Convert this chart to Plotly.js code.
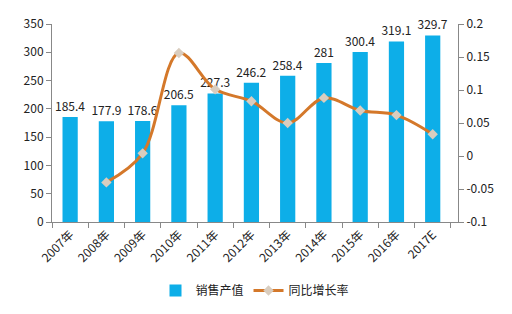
<!DOCTYPE html>
<html><head><meta charset="utf-8">
<script src="https://cdn.plot.ly/plotly-3.0.1.min.js"></script>
<style>html,body{margin:0;padding:0;background:#fff}#c{width:512px;height:314px}</style>
</head><body><div id="c"></div>
<script>
var years = ['2007年','2008年','2009年','2010年','2011年','2012年','2013年','2014年','2015年','2016年','2017E'];
var sales = [185.4,177.9,178.6,206.5,227.3,246.2,258.4,281,300.4,319.1,329.7];
var growthYears = ['2008年','2009年','2010年','2011年','2012年','2013年','2014年','2015年','2016年','2017E'];
var growth = [-0.040,0.004,0.156,0.101,0.083,0.050,0.088,0.069,0.062,0.033];
var y2Ticks = [-0.1,-0.05,0,0.05,0.1,0.15,0.2];
var y2Labels = ['-0.1','-0.05','0','0.05','0.1','0.15','0.2'];
var font = 'Noto Sans CJK SC, Open Sans, sans-serif';
var data = [
 {type:'bar', x:years, y:sales, name:'销售产值', marker:{color:'#0DAEE8'}, width:0.42,
  text:sales.map(String), textposition:'outside', cliponaxis:false, constraintext:'none',
  textfont:{size:12,color:'#222',family:font}},
 {type:'scatter', mode:'lines+markers', x:growthYears, y:growth, yaxis:'y2', name:'同比增长率',
  line:{color:'#D4782A', width:3, shape:'spline', smoothing:1},
  marker:{symbol:'diamond', size:8, color:'#D9CDBF'}}
];
var layout = {
 width:512, height:314, margin:{l:52, r:54, t:24, b:92},
 paper_bgcolor:'#fff', plot_bgcolor:'#fff',
 font:{family:font, size:12, color:'#333'},
 showlegend:true,
 legend:{orientation:'h', x:0.5, xanchor:'center', yref:'container', y:0.075, yanchor:'middle', font:{size:12,color:'#222'}},
 xaxis:{type:'category', automargin:false, showline:true, linecolor:'#888', linewidth:1, ticks:'outside', tickson:'boundaries',
   ticklen:5, tickcolor:'#888', tickangle:-45, showgrid:false, zeroline:false, tickfont:{size:12,color:'#222'}},
 yaxis:{range:[0,350], dtick:50, automargin:false, showline:true, linecolor:'#888', ticks:'outside', ticklen:5, tickcolor:'#888',
   showgrid:false, zeroline:false, tickfont:{size:12,color:'#222'}},
 yaxis2:{overlaying:'y', side:'right', automargin:false, range:[-0.1,0.2], tickvals:y2Ticks, ticktext:y2Labels,
   showline:true, linecolor:'#888', ticks:'outside', ticklen:5, tickcolor:'#888', showgrid:false, zeroline:false,
   tickfont:{size:12,color:'#222'}},
 bargap:0.58
};
Plotly.newPlot('c', data, layout, {displayModeBar:false, staticPlot:true});
</script></body></html>
